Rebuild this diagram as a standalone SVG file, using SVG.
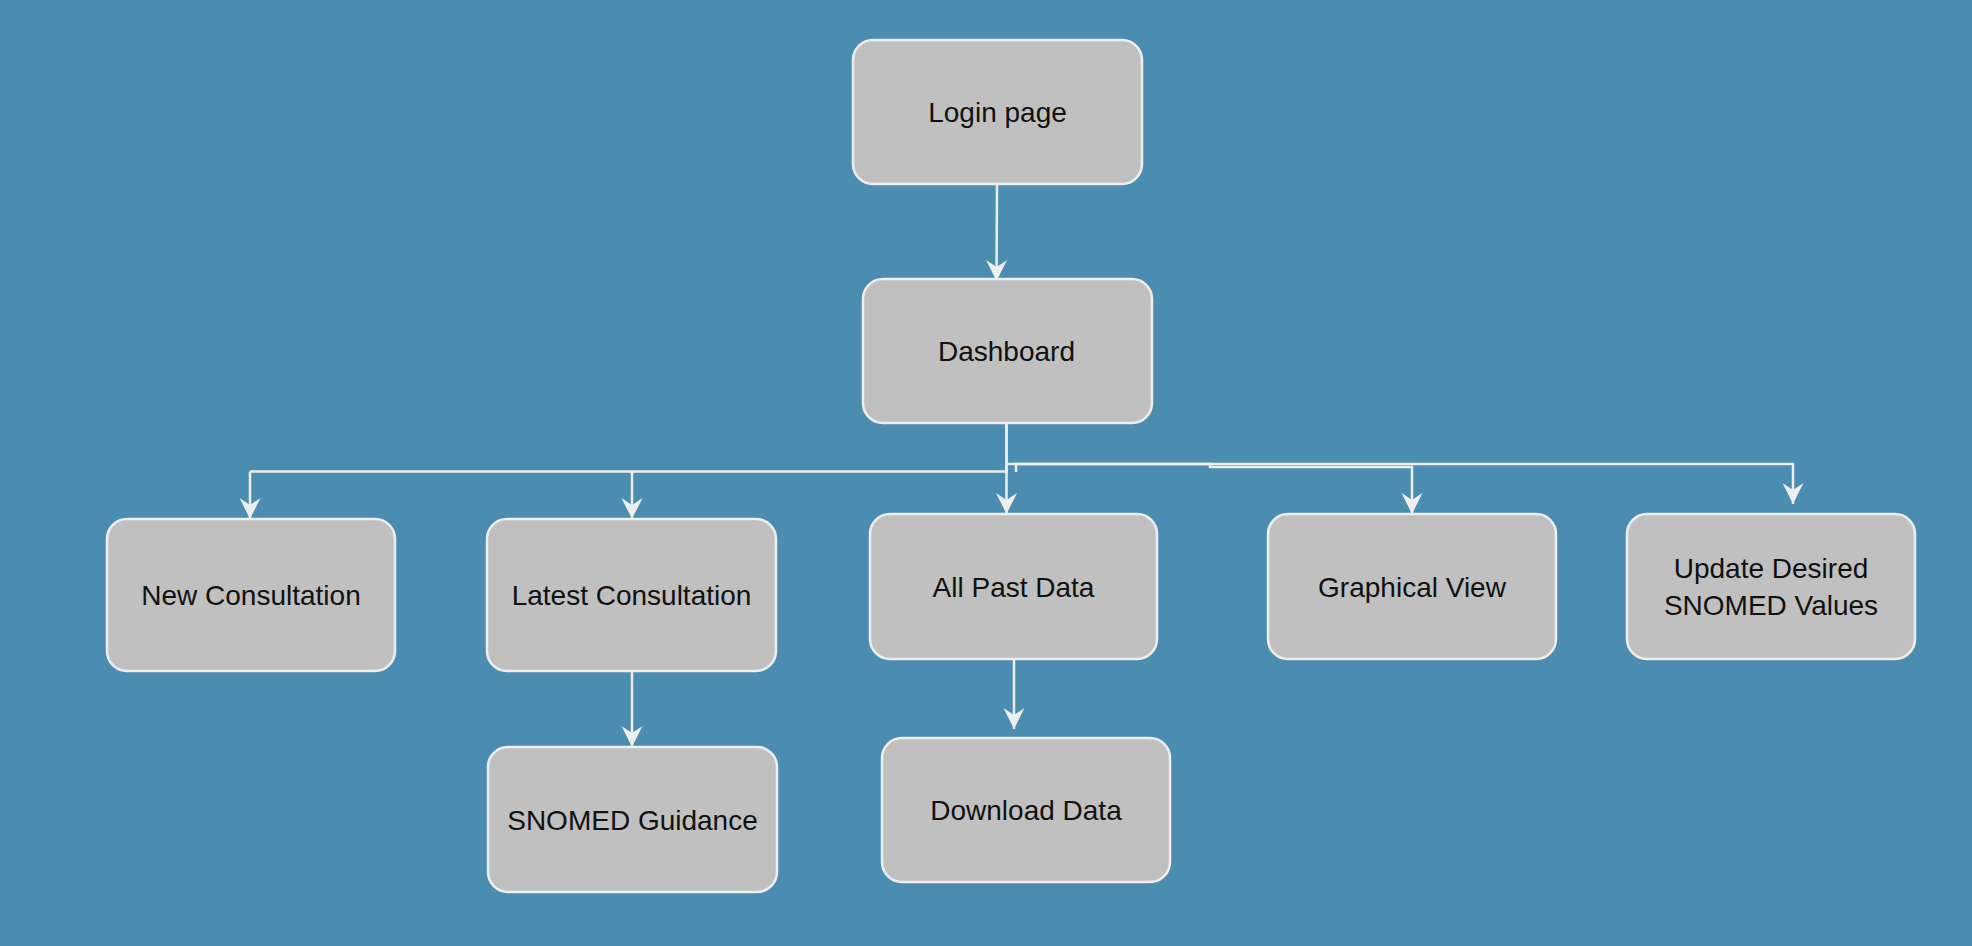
<svg xmlns="http://www.w3.org/2000/svg" width="1972" height="946" viewBox="0 0 1972 946">
  <defs>
    <style>
      .node rect { fill: #c0c0c0; stroke: #eeeeee; stroke-width: 2.5; }
      .node text { font-family: "Liberation Sans", Arial, sans-serif; font-size: 28px; fill: #111111; text-anchor: middle; }
      .edge { fill: none; stroke: #eeeeee; stroke-width: 2.5; }
      .arrow { marker-end: url(#arrowhead); }
    </style>
    <marker id="arrowhead" markerUnits="userSpaceOnUse" markerWidth="24" markerHeight="24" viewBox="-22 -12 24 24" refX="0" refY="0" orient="auto">
      <path d="M0,0 L-21,-10.5 L-14,0 L-21,10.5 Z" fill="#eeeeee" stroke="none"/>
    </marker>
  </defs>
  <rect x="0" y="0" width="1972" height="946" fill="#4b8db1"/>

  <g id="connectors">
    <path class="edge arrow" d="M997,184 L996.5,281"/>
    <path class="edge" d="M1006.5,423 V471.5 H250"/>
    <path class="edge arrow" d="M250,471.5 V519"/>
    <path class="edge arrow" d="M632,471.5 V519"/>
    <path class="edge arrow" d="M1006.5,423 V514"/>
    <path class="edge arrow" d="M1006.5,464 H1210 V467 H1412 V514"/>
    <path class="edge arrow" d="M1016,472 V464 H1793 V504"/>
    <path class="edge arrow" d="M632,671 V747"/>
    <path class="edge arrow" d="M1014,659 V729"/>
  </g>

  <g id="login" class="node">
    <rect x="853" y="40" width="289" height="144" rx="20" ry="20"/>
    <text x="997.5" y="122">Login page</text>
  </g>
  <g id="dashboard" class="node">
    <rect x="863" y="279" width="289" height="144" rx="20" ry="20"/>
    <text x="1006.5" y="361">Dashboard</text>
  </g>
  <g id="new-consultation" class="node">
    <rect x="107" y="519" width="288" height="152" rx="20" ry="20"/>
    <text x="251" y="605">New Consultation</text>
  </g>
  <g id="latest-consultation" class="node">
    <rect x="487" y="519" width="289" height="152" rx="20" ry="20"/>
    <text x="631.5" y="605">Latest Consultation</text>
  </g>
  <g id="all-past-data" class="node">
    <rect x="870" y="514" width="287" height="145" rx="20" ry="20"/>
    <text x="1013.5" y="596.5">All Past Data</text>
  </g>
  <g id="graphical-view" class="node">
    <rect x="1268" y="514" width="288" height="145" rx="20" ry="20"/>
    <text x="1412" y="596.5">Graphical View</text>
  </g>
  <g id="update-snomed" class="node">
    <rect x="1627" y="514" width="288" height="145" rx="20" ry="20"/>
    <text x="1771" y="578">Update Desired</text>
    <text x="1771" y="615">SNOMED Values</text>
  </g>
  <g id="snomed-guidance" class="node">
    <rect x="488" y="747" width="289" height="145" rx="20" ry="20"/>
    <text x="632.5" y="829.5">SNOMED Guidance</text>
  </g>
  <g id="download-data" class="node">
    <rect x="882" y="738" width="288" height="144" rx="20" ry="20"/>
    <text x="1026" y="820">Download Data</text>
  </g>
</svg>
